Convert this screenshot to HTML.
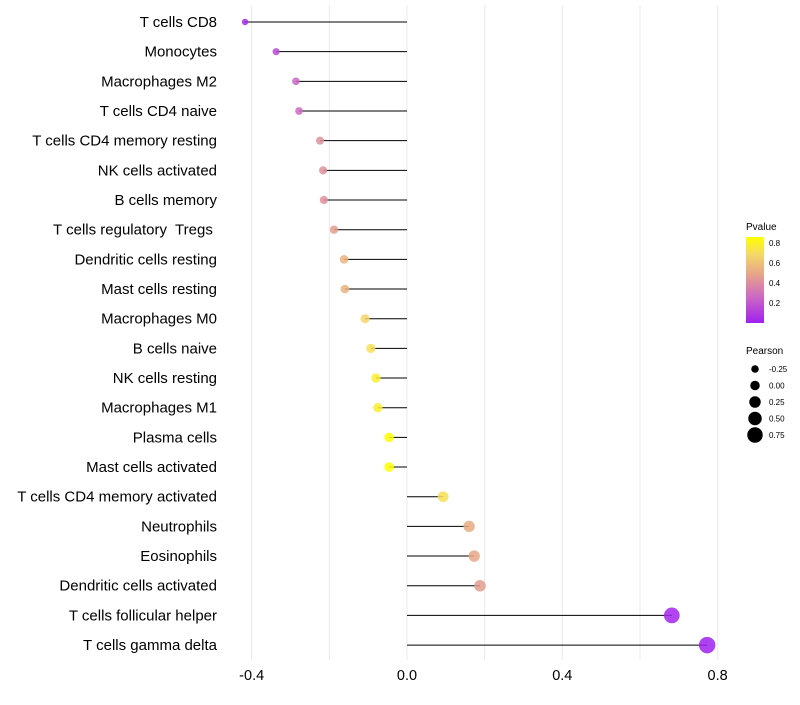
<!DOCTYPE html>
<html><head><meta charset="utf-8"><style>
body{margin:0;background:#fff;font-family:"Liberation Sans",sans-serif;}
svg text{font-family:"Liberation Sans",sans-serif;white-space:pre;}
</style></head><body>
<svg id="chart" width="800" height="700">
<defs><linearGradient id="pg" x1="0" y1="1" x2="0" y2="0">
<stop offset="0" stop-color="#a020f0"/><stop offset="0.3" stop-color="#cc68c4"/><stop offset="0.55" stop-color="#e4a08c"/><stop offset="0.8" stop-color="#f5d868"/><stop offset="1" stop-color="#ffff00"/>
</linearGradient></defs>
<g id="grid"></g><g id="marks"></g><g id="ylab"></g><g id="xlab"></g>
<g>
<text x="746" y="230" font-size="10">Pvalue</text>
<rect x="746" y="237" width="18" height="86" fill="url(#pg)"/>
<text x="769" y="246" font-size="8">0.8</text><text x="769" y="266" font-size="8">0.6</text>
<text x="769" y="286" font-size="8">0.4</text><text x="769" y="306" font-size="8">0.2</text>
</g>
<g id="sizeleg">
<text x="746" y="354" font-size="10">Pearson</text>
</g>
</svg>
<script>
const categories=["T cells CD8","Monocytes","Macrophages M2","T cells CD4 naive","T cells CD4 memory resting","NK cells activated","B cells memory","T cells regulatory  Tregs ","Dendritic cells resting","Mast cells resting","Macrophages M0","B cells naive","NK cells resting","Macrophages M1","Plasma cells","Mast cells activated","T cells CD4 memory activated","Neutrophils","Eosinophils","Dendritic cells activated","T cells follicular helper","T cells gamma delta"];
const pearson=[-0.417,-0.337,-0.286,-0.278,-0.224,-0.216,-0.214,-0.188,-0.162,-0.160,-0.108,-0.093,-0.080,-0.075,-0.046,-0.046,0.093,0.160,0.173,0.188,0.682,0.773];
const pvalues=[0.03,0.15,0.25,0.27,0.42,0.42,0.42,0.47,0.55,0.55,0.68,0.72,0.78,0.78,0.86,0.86,0.72,0.52,0.5,0.46,0.02,0.0];
const xTicks=[-0.4,0,0.4,0.8];
const xTickLabels=["-0.4","0.0","0.4","0.8"];
const xGrid=[-0.4,-0.2,0,0.2,0.4,0.6,0.8];
const legendVals=[-0.25,0,0.25,0.5,0.75];
const legendLabels=["-0.25","0.00","0.25","0.50","0.75"];
const NS="http://www.w3.org/2000/svg";
const x=v=>407+v*388.3;
const y=i=>22+i*29.67;
const r=v=>Math.max(2.2,5+4.2*v);
const stops=[[0,[160,32,240]],[0.3,[204,104,196]],[0.55,[228,160,140]],[0.8,[245,216,104]],[1,[255,255,0]]];
function col(p){let t=Math.min(1,Math.max(0,p/0.86));for(let k=1;k<stops.length;k++){if(t<=stops[k][0]){const a=stops[k-1],b=stops[k];const f=(t-a[0])/(b[0]-a[0]);return "rgb("+a[1].map((c,j)=>Math.round(c+(b[1][j]-c)*f)).join(",")+")";}}return "rgb(255,255,0)";}
function mk(tag,at,parent){const e=document.createElementNS(NS,tag);for(const k in at)e.setAttribute(k,at[k]);document.getElementById(parent).appendChild(e);return e;}
xGrid.forEach(v=>{const l=mk("line",{x1:x(v),x2:x(v),y1:5,y2:660,stroke:"#ebebeb","stroke-width":1},"grid");

});
categories.forEach((c,i)=>{
const s=mk("line",{x1:x(0),x2:x(pearson[i]),y1:y(i),y2:y(i),stroke:"#000","stroke-width":1},"marks");


const d=mk("circle",{cx:x(pearson[i]),cy:y(i),r:r(pearson[i]),fill:col(pvalues[i]),"fill-opacity":0.85},"marks");


const t=mk("text",{x:217,y:y(i)+5,"text-anchor":"end","font-size":15,fill:"#000"},"ylab");t.textContent=c;


});
xTicks.forEach((v,i)=>{const t=mk("text",{x:x(v),y:680,"text-anchor":"middle","font-size":14.5,fill:"#000"},"xlab");t.textContent=xTickLabels[i];

});
legendVals.forEach((v,i)=>{const cy=369+i*16.5;
const c=mk("circle",{cx:755,cy:cy,r:r(v)*0.95,fill:"#000"},"sizeleg");


const t=mk("text",{x:769,y:cy+3,"font-size":8},"sizeleg");t.textContent=legendLabels[i];

});
</script>
</body></html>
